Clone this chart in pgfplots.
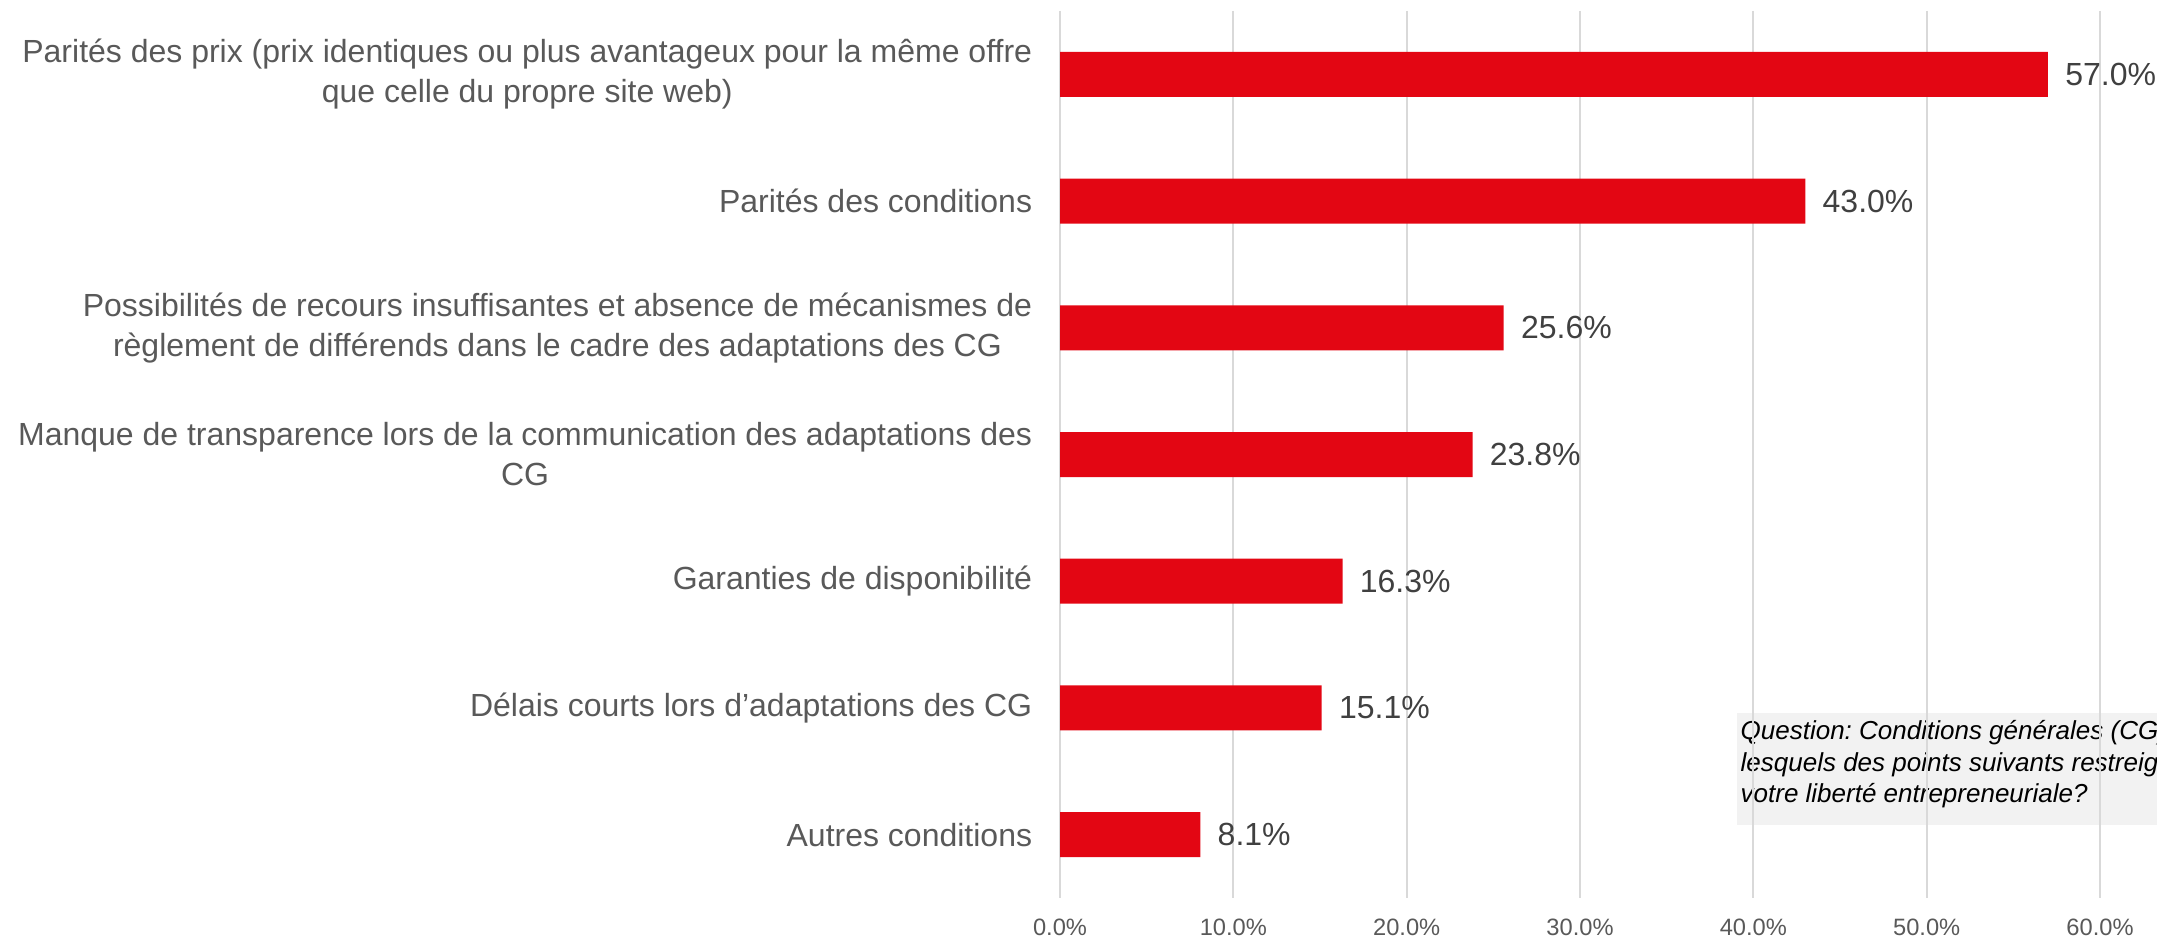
\documentclass[border=0pt]{standalone}
\usepackage{pgfplots}
\pgfplotsset{compat=1.18}
\usepackage{fontspec}
\setmainfont{Liberation Sans}
\frenchspacing
\definecolor{barred}{HTML}{E30613}
\definecolor{gridgray}{HTML}{D9D9D9}
\definecolor{labgray}{HTML}{595959}
\definecolor{valgray}{HTML}{404040}
\definecolor{boxgray}{HTML}{F2F2F2}
\begin{document}
\begin{tikzpicture}
% question box (behind grid)
\fill[boxgray] (521.1pt,33.3pt) rectangle (720pt,66.9pt);
\node[anchor=base west, inner sep=0pt, font=\fontsize{7.8}{9.5}\selectfont\itshape] at (522pt,58.8pt) {Question: Conditions générales (CG) : lesquels};
\node[anchor=base west, inner sep=0pt, font=\fontsize{7.8}{9.5}\selectfont\itshape] at (522pt,49.4pt) {lesquels des points suivants restreignent};
\node[anchor=base west, inner sep=0pt, font=\fontsize{7.8}{9.5}\selectfont\itshape] at (522pt,40.0pt) {votre liberté entrepreneuriale?};
\begin{axis}[
  at={(318pt,11.4pt)}, anchor=south west,
  scale only axis,
  width=312pt, height=266.1pt,
  xbar, bar width=13.5pt,
  xmin=0, xmax=60,
  ymin=-0.5, ymax=6.5,
  y dir=reverse,
  axis line style={draw=none},
  tick style={draw=none},
  xmajorgrids, major grid style={gridgray, line width=0.6pt},
  xtick={0,10,20,30,40,50,60},
  xticklabels={0.0\%,10.0\%,20.0\%,30.0\%,40.0\%,50.0\%,60.0\%},
  xticklabel style={font=\fontsize{7.1}{8}\selectfont, text=labgray, anchor=base, inner sep=0pt, yshift=-11.1pt},
  ytick={0,1,2,3,4,5,6},
  yticklabels={
    {Parités des prix (prix identiques ou plus avantageux pour la même offre\\que celle du propre site web)},
    {Parités des conditions},
    {Possibilités de recours insuffisantes et absence de mécanismes de\\règlement de différends dans le cadre des adaptations des CG},
    {Manque de transparence lors de la communication des adaptations des\\CG},
    {Garanties de disponibilité},
    {Délais courts lors d’adaptations des CG},
    {Autres conditions}},
  yticklabel style={font=\fontsize{9.6}{12}\selectfont, text=labgray, align=center, anchor=east, inner sep=0pt, xshift=-3.9pt},
  nodes near coords={\pgfmathprintnumber[fixed,precision=1,fixed zerofill,assume math mode=true]{\pgfplotspointmeta}\%},
  point meta=explicit,
  nodes near coords style={font=\fontsize{9.6}{12}\selectfont, text=valgray, anchor=west, inner sep=0pt, xshift=5pt},
  clip=false,
]
\addplot[fill=barred, draw=none] coordinates {
  (57.0,0) [57.0]
  (43.0,1) [43.0]
  (25.6,2) [25.6]
  (23.8,3) [23.8]
  (16.3,4) [16.3]
  (15.1,5) [15.1]
  (8.1,6) [8.1]
};
\end{axis}
\pgfresetboundingbox
\useasboundingbox (0,0) rectangle (647.1pt,280.8pt);
\end{tikzpicture}
\end{document}
